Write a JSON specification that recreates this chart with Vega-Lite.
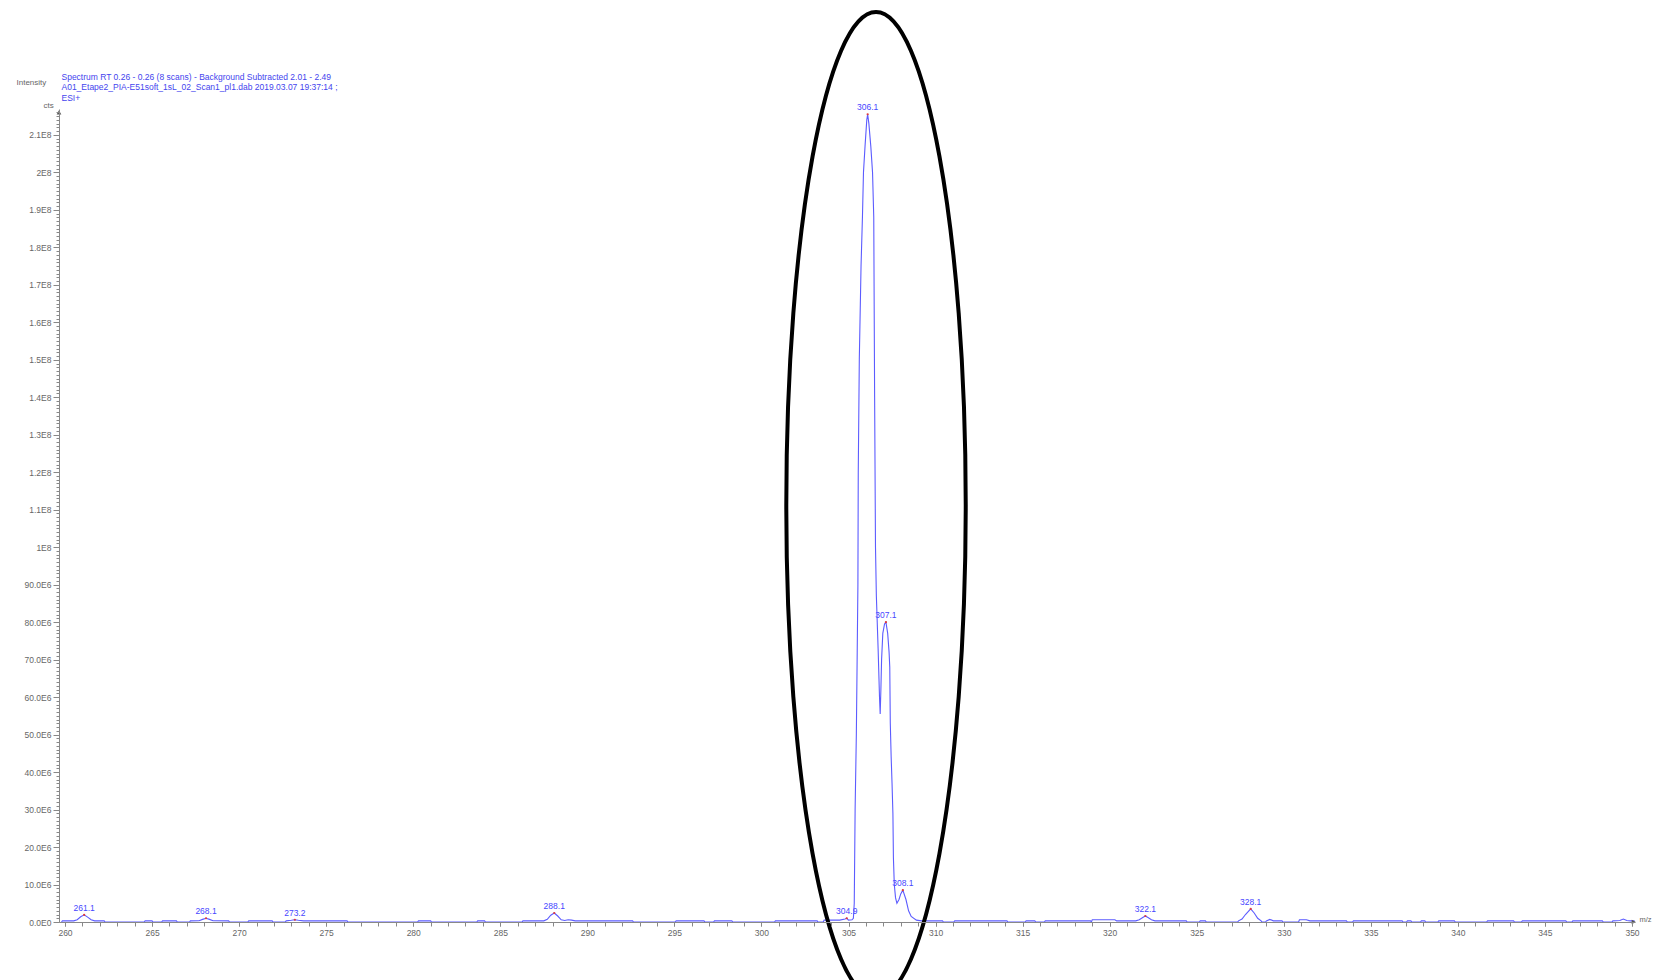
{
  "$schema": "https://vega.github.io/schema/vega-lite/v6.json",
  "width": 1576,
  "height": 813,
  "autosize": {"type": "none"},
  "padding": {"left": 59, "top": 109, "right": 18, "bottom": 58},
  "background": "white",
  "config": {"view": {"stroke": null}, "font": "Liberation Sans", "axis": {"grid": false}},
  "datasets": {
    "spectrum": [
      {"mz":259.8,"i":0},{"mz":259.85,"i":300000},{"mz":260.5,"i":300000},{"mz":260.7,"i":600000},{"mz":260.9,"i":1400000},{"mz":261.1,"i":1900000},{"mz":261.3,"i":1300000},{"mz":261.5,"i":600000},{"mz":261.7,"i":300000},{"mz":262.25,"i":300000},{"mz":262.3,"i":0},
      {"mz":264.55,"i":0},{"mz":264.6,"i":300000},{"mz":265.0,"i":300000},{"mz":265.05,"i":0},
      {"mz":265.55,"i":0},{"mz":265.6,"i":300000},{"mz":266.4,"i":300000},{"mz":266.45,"i":0},
      {"mz":267.15,"i":0},{"mz":267.2,"i":300000},{"mz":267.7,"i":350000},{"mz":267.9,"i":700000},{"mz":268.1,"i":1000000},{"mz":268.3,"i":700000},{"mz":268.5,"i":350000},{"mz":269.4,"i":300000},{"mz":269.45,"i":0},
      {"mz":270.5,"i":0},{"mz":270.55,"i":300000},{"mz":271.9,"i":300000},{"mz":271.95,"i":0},
      {"mz":272.65,"i":0},{"mz":272.7,"i":300000},{"mz":273.0,"i":450000},{"mz":273.2,"i":600000},{"mz":273.4,"i":450000},{"mz":273.7,"i":300000},{"mz":276.2,"i":300000},{"mz":276.25,"i":0},
      {"mz":280.25,"i":0},{"mz":280.3,"i":300000},{"mz":281.0,"i":300000},{"mz":281.05,"i":0},
      {"mz":283.65,"i":0},{"mz":283.7,"i":300000},{"mz":284.1,"i":300000},{"mz":284.15,"i":0},
      {"mz":286.25,"i":0},{"mz":286.3,"i":300000},{"mz":287.5,"i":300000},{"mz":287.7,"i":700000},{"mz":287.9,"i":1800000},{"mz":288.1,"i":2400000},{"mz":288.3,"i":1600000},{"mz":288.5,"i":600000},{"mz":288.7,"i":400000},{"mz":288.9,"i":600000},{"mz":289.1,"i":500000},{"mz":289.3,"i":300000},{"mz":292.6,"i":300000},{"mz":292.65,"i":0},
      {"mz":295.05,"i":0},{"mz":295.1,"i":300000},{"mz":296.7,"i":300000},{"mz":296.75,"i":0},
      {"mz":297.25,"i":0},{"mz":297.3,"i":300000},{"mz":298.3,"i":300000},{"mz":298.35,"i":0},
      {"mz":300.75,"i":0},{"mz":300.8,"i":300000},{"mz":303.2,"i":300000},{"mz":303.25,"i":0},
      {"mz":303.55,"i":0},{"mz":303.6,"i":500000},{"mz":304.5,"i":500000},{"mz":304.8,"i":800000},{"mz":304.9,"i":1000000},{"mz":305.0,"i":500000},{"mz":305.2,"i":600000},
      {"mz":305.28,"i":1000000},{"mz":305.33,"i":5000000},{"mz":305.38,"i":30000000},{"mz":305.45,"i":50000000},{"mz":305.5,"i":72000000},{"mz":305.54,"i":90000000},{"mz":305.56,"i":120000000},{"mz":305.62,"i":150000000},{"mz":305.72,"i":175000000},{"mz":305.8,"i":188000000},{"mz":305.86,"i":200000000},{"mz":305.95,"i":207000000},{"mz":306.05,"i":214000000},{"mz":306.1,"i":215500000},{"mz":306.17,"i":213000000},{"mz":306.28,"i":207000000},{"mz":306.38,"i":200000000},{"mz":306.45,"i":188000000},{"mz":306.5,"i":140000000},{"mz":306.55,"i":100000000},{"mz":306.6,"i":87000000},{"mz":306.7,"i":73000000},{"mz":306.78,"i":60000000},{"mz":306.82,"i":55500000},{"mz":306.86,"i":62000000},{"mz":306.9,"i":70000000},{"mz":306.97,"i":77000000},{"mz":307.07,"i":79500000},{"mz":307.15,"i":80000000},{"mz":307.25,"i":77000000},{"mz":307.33,"i":72000000},{"mz":307.37,"i":68000000},{"mz":307.4,"i":53000000},{"mz":307.45,"i":44000000},{"mz":307.5,"i":37000000},{"mz":307.55,"i":29000000},{"mz":307.58,"i":17000000},{"mz":307.63,"i":10000000},{"mz":307.7,"i":6500000},{"mz":307.78,"i":5000000},{"mz":307.9,"i":6000000},{"mz":308.0,"i":7500000},{"mz":308.12,"i":8500000},{"mz":308.3,"i":6000000},{"mz":308.45,"i":3000000},{"mz":308.6,"i":1500000},{"mz":308.9,"i":500000},
      {"mz":309.2,"i":300000},{"mz":310.4,"i":300000},{"mz":310.45,"i":0},
      {"mz":311.05,"i":0},{"mz":311.1,"i":300000},{"mz":314.1,"i":300000},{"mz":314.15,"i":0},
      {"mz":315.15,"i":0},{"mz":315.2,"i":300000},{"mz":315.7,"i":300000},{"mz":315.75,"i":0},
      {"mz":316.25,"i":0},{"mz":316.3,"i":300000},{"mz":318.9,"i":300000},{"mz":318.95,"i":0},
      {"mz":319.0,"i":600000},{"mz":320.3,"i":600000},{"mz":320.4,"i":300000},{"mz":321.5,"i":300000},{"mz":321.7,"i":600000},{"mz":321.9,"i":1200000},{"mz":322.05,"i":1600000},{"mz":322.2,"i":1200000},{"mz":322.4,"i":600000},{"mz":322.6,"i":300000},{"mz":324.4,"i":300000},{"mz":324.45,"i":0},
      {"mz":325.15,"i":0},{"mz":325.2,"i":300000},{"mz":325.5,"i":300000},{"mz":325.55,"i":0},
      {"mz":327.35,"i":0},{"mz":327.4,"i":300000},{"mz":327.6,"i":800000},{"mz":327.8,"i":2000000},{"mz":328.1,"i":3500000},{"mz":328.3,"i":2400000},{"mz":328.5,"i":1000000},{"mz":328.7,"i":300000},{"mz":328.75,"i":0},
      {"mz":328.95,"i":0},{"mz":329.0,"i":300000},{"mz":329.2,"i":700000},{"mz":329.4,"i":300000},{"mz":329.9,"i":300000},{"mz":329.95,"i":0},
      {"mz":330.85,"i":0},{"mz":330.9,"i":600000},{"mz":331.3,"i":600000},{"mz":331.5,"i":300000},{"mz":333.6,"i":300000},{"mz":333.65,"i":0},
      {"mz":333.95,"i":0},{"mz":334.0,"i":300000},{"mz":336.8,"i":300000},{"mz":336.85,"i":0},
      {"mz":337.05,"i":0},{"mz":337.1,"i":300000},{"mz":337.3,"i":300000},{"mz":337.35,"i":0},
      {"mz":337.85,"i":0},{"mz":337.9,"i":300000},{"mz":338.1,"i":300000},{"mz":338.15,"i":0},
      {"mz":338.85,"i":0},{"mz":338.9,"i":300000},{"mz":339.8,"i":300000},{"mz":339.85,"i":0},
      {"mz":341.65,"i":0},{"mz":341.7,"i":300000},{"mz":343.2,"i":300000},{"mz":343.25,"i":0},
      {"mz":343.65,"i":0},{"mz":343.7,"i":300000},{"mz":345.0,"i":300000},{"mz":345.2,"i":300000},{"mz":346.2,"i":300000},{"mz":346.25,"i":0},
      {"mz":346.55,"i":0},{"mz":346.6,"i":300000},{"mz":347.2,"i":300000},{"mz":347.4,"i":300000},{"mz":348.3,"i":300000},{"mz":348.35,"i":0},
      {"mz":348.85,"i":0},{"mz":348.9,"i":300000},{"mz":349.3,"i":400000},{"mz":349.5,"i":800000},{"mz":349.7,"i":400000},{"mz":349.9,"i":300000},{"mz":350.15,"i":300000}
    ],
    "peaks": [
      {"mz":261.1,"i":1900000,"label":"261.1"},
      {"mz":268.1,"i":1000000,"label":"268.1"},
      {"mz":273.2,"i":600000,"label":"273.2"},
      {"mz":288.1,"i":2400000,"label":"288.1"},
      {"mz":304.9,"i":1000000,"label":"304.9"},
      {"mz":306.1,"i":215500000,"label":"306.1"},
      {"mz":307.15,"i":80000000,"label":"307.1"},
      {"mz":308.12,"i":8500000,"label":"308.1"},
      {"mz":322.05,"i":1600000,"label":"322.1"},
      {"mz":328.1,"i":3500000,"label":"328.1"}
    ],
    "arrows": [
      {"mz":259.655,"i":216000000,"axis":"y"},
      {"mz":350.1,"i":0,"axis":"x"}
    ],
    "ellipse": [
      {"mz":306.58,"i":111270000}
    ]
  },
  "resolve": {"axis": {"x": "independent", "y": "independent"}},
  "layer": [
    {
      "data": {"name": "spectrum"},
      "mark": {"type": "line", "color": "#5c5cff", "strokeWidth": 1.1, "interpolate": "linear"},
      "encoding": {
        "x": {"field": "mz", "type": "quantitative",
          "scale": {"domain": [259.655, 350.172], "nice": false, "zero": false},
          "axis": {"orient": "bottom", "values": [260,265,270,275,280,285,290,295,300,305,310,315,320,325,330,335,340,345,350],
            "labelFontSize": 8.5, "labelColor": "#666", "labelPadding": 2, "labelFlush": false, "labelOverlap": false,
            "tickSize": 4, "tickColor": "#888", "domainColor": "#888", "zindex": 1,
            "title": "m/z", "titleX": 1580, "titleY": -3, "titleAlign": "left", "titleBaseline": "middle",
            "titleFontSize": 7.5, "titleFontWeight": "normal", "titleColor": "#666"}},
        "y": {"field": "i", "type": "quantitative",
          "scale": {"domain": [0, 216900000], "nice": false, "zero": true},
          "axis": {"orient": "left", "values": [0,10000000,20000000,30000000,40000000,50000000,60000000,70000000,80000000,90000000,100000000,110000000,120000000,130000000,140000000,150000000,160000000,170000000,180000000,190000000,200000000,210000000],
            "labelExpr": "datum.value == 0 ? '0.0E0' : datum.value < 100000000 ? format(datum.value/1000000, '.1f') + 'E6' : format(datum.value/100000000, '.1~f') + 'E8'",
            "labelFontSize": 8.5, "labelColor": "#666", "labelPadding": 2, "labelOverlap": false, "labelFlush": false,
            "tickSize": 6, "tickColor": "#888", "domainColor": "#888", "zindex": 1,
            "title": "Intensity", "titleX": -43, "titleY": -27, "titleAngle": 0, "titleAlign": "left", "titleBaseline": "middle",
            "titleFontSize": 8, "titleFontWeight": "normal", "titleColor": "#666"}}
      }
    },
    {
      "data": {"name": "peaks"},
      "mark": {"type": "text", "color": "#4646ff", "fontSize": 8.5, "baseline": "bottom", "align": "center", "dy": -2},
      "encoding": {
        "x": {"field": "mz", "type": "quantitative", "axis": null},
        "y": {"field": "i", "type": "quantitative", "axis": null},
        "text": {"field": "label", "type": "nominal"}
      }
    },
    {
      "data": {"name": "peaks"},
      "mark": {"type": "point", "filled": true, "color": "#e03a3a", "size": 5, "opacity": 1},
      "encoding": {
        "x": {"field": "mz", "type": "quantitative", "axis": null},
        "y": {"field": "i", "type": "quantitative", "axis": null}
      }
    },
    {
      "data": {"name": "arrows"},
      "mark": {"type": "point", "filled": true, "color": "#555", "size": 22, "opacity": 1},
      "encoding": {
        "x": {"field": "mz", "type": "quantitative",
          "axis": {"orient": "bottom", "tickCount": 90, "labels": false, "domain": false, "tickSize": 4, "tickColor": "#888", "title": null, "zindex": 1}},
        "y": {"field": "i", "type": "quantitative",
          "axis": {"orient": "left", "tickCount": 216, "labels": false, "domain": false, "tickSize": 3, "tickColor": "#888", "zindex": 1,
            "title": "cts", "titleX": -16, "titleY": -4, "titleAngle": 0, "titleAlign": "left", "titleBaseline": "middle",
            "titleFontSize": 8, "titleFontWeight": "normal", "titleColor": "#666"}},
        "shape": {"field": "axis", "type": "nominal", "scale": {"domain": ["x", "y"], "range": ["triangle-right", "triangle-up"]}, "legend": null}
      }
    },
    {
      "data": {"name": "ellipse"},
      "mark": {"type": "point", "shape": "M 0 -1 C 0.1005 -1 0.182 -0.5523 0.182 0 C 0.182 0.5523 0.1005 1 0 1 C -0.1005 1 -0.182 0.5523 -0.182 0 C -0.182 -0.5523 -0.1005 -1 0 -1 Z",
        "size": 972196, "filled": false, "color": "black", "stroke": "black", "strokeWidth": 4, "opacity": 1},
      "encoding": {
        "x": {"field": "mz", "type": "quantitative",
          "axis": {"orient": "top", "labels": false, "ticks": false, "domain": false,
            "title": ["Spectrum RT 0.26 - 0.26 (8 scans) - Background Subtracted 2.01 - 2.49", "A01_Etape2_PIA-E51soft_1sL_02_Scan1_pl1.dab 2019.03.07 19:37:14 ;", "ESI+"],
            "titleX": 2, "titleY": -37, "titleAlign": "left", "titleBaseline": "top", "titleAngle": 0,
            "titleFontSize": 8.5, "titleFontWeight": "normal", "titleColor": "#4444ee", "titleLineHeight": 10.5}},
        "y": {"field": "i", "type": "quantitative", "axis": null}
      }
    }
  ]
}
